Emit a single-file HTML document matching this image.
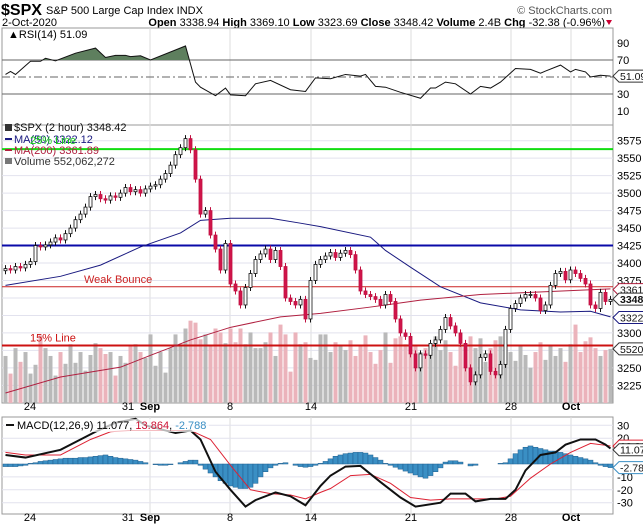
<!DOCTYPE html>
<html><head><meta charset="utf-8"><style>
body{margin:0;background:#fff;}
svg{display:block;font-family:"Liberation Sans",sans-serif;}
</style></head><body>
<svg id="c" width="643" height="529" viewBox="0 0 643 529"></svg>
<script>
const closes=[3392,3390,3395,3393,3398,3402,3425,3423,3426,3430,3436,3433,3442,3450,3462,3470,3480,3495,3498,3492,
3490,3496,3494,3500,3508,3502,3505,3500,3506,3510,3512,3520,3528,3540,3555,3565,3578,3562,3520,3470,
3475,3440,3420,3390,3428,3370,3360,3340,3365,3385,3405,3413,3420,3405,3418,3395,3350,3345,3340,3348,
3320,3375,3398,3405,3410,3415,3408,3414,3418,3412,3390,3360,3355,3352,3348,3340,3355,3345,3320,3300,
3295,3270,3250,3270,3268,3285,3290,3305,3322,3310,3300,3285,3250,3230,3240,3265,3270,3245,3240,3255,
3305,3335,3342,3350,3355,3355,3350,3332,3340,3368,3385,3388,3376,3390,3385,3378,3370,3340,3335,3358,3345,3348];
const volumes=[480,300,560,420,520,300,390,690,560,480,280,520,400,600,410,520,330,490,610,560,
500,520,280,480,410,590,600,520,460,700,380,520,310,560,700,600,760,840,820,650,
700,580,760,720,610,760,620,760,600,720,560,560,620,720,480,800,700,320,720,600,
620,460,440,700,700,520,620,580,540,640,480,580,690,520,400,540,720,410,660,680,
600,610,590,520,560,520,680,540,640,520,380,580,560,680,560,660,420,560,640,680,
600,520,430,580,490,360,520,620,440,580,480,560,420,600,800,520,630,670,560,480,540,552];
const hist=[-2,-2,-2,-1.5,-1,
0.5,1,2,2.5,3,3.5,4,4.5,4.5,4.5,5,5,5.5,6,
6.5,7,6,5,4.5,4,3.5,3,
2,1,0,-0.5,-1,-1,-0.5,
0,1,2,3,3,
-1,-4,-7,-10,-13,-15,-17,-18,-19,-19,-18,-15,
-10,-6,-3,-1,0.5,1,0,-1,-2,-2.5,-2,-1,
0.5,2,4,6,7,8,8.5,9,9,8.5,7,5,3,
0.5,-1,-2.5,-4,-5.5,-7,-8.5,-10,-11,-9,-6,-3,
1.5,2.5,2.5,1.5,0,-1.5,-1,
0,0,0,0,0.5,1,
4,8,11,13,14,13,
12,11,10,10,9,8,7,6,5,4,3,1,-1,-2,-2.8];
const macdIdx=[0,4,11,15,18,22,26,28,34,37,39,42,45,48,50,54,57,60,63,65,68,71,75,79,82,87,89,92,94,97,100,102,104,107,110,112,115,118,120,121];
const macdVal=[7,5,11,19,25,32,35,30,24,26,19,-6,-20,-33,-28,-22,-25,-32,-17,-9,-2,-1.5,-14,-26,-33,-30,-23,-23,-29,-27,-27,-20,-5,7,9,15,19,19,15,12];
const sigIdx=[0,4,11,17,21,25,31,37,41,45,49,53,57,60,63,65,69,73,77,81,85,89,93,98,101,105,109,113,117,121];
const sigVal=[9,7,7,19,25,26,26,26,19,-1,-20,-23,-24,-27,-22,-19,-9,-8,-15,-26,-28,-27,-27,-27,-25,-11,0,9,16,14];
const rsiIdx=[0,1,2,5,7,8,10,14,18,20,22,24,25,27,29,36,38,39,42,44,45,48,50,53,57,60,62,65,68,71,72,74,76,79,83,85,86,88,90,93,95,97,99,102,105,107,108,111,113,114,116,117,119,121];
const rsiVal=[53,56.5,53,68.5,68.5,72,69,78,84,73,75.5,75.5,74,75,70,86.5,44,38,28,37,29,28,42,46,35,33,49,48,53,51,53,39,38,32,25,37,37,44,42,30,39,37,44,60,59,54.5,57,64,56,59,56,50,52,51];
const ma50Idx=[0,11,19,27,35,39,45,53,59,63,73,76,81,87,95,103,111,117,121];
const ma50Val=[3368,3381,3397,3423,3443,3461,3464,3464,3457,3452,3437,3418,3394,3366,3343,3333,3330,3331,3323];
const ma200Idx=[0,11,23,29,37,45,55,63,73,83,95,105,121];
const ma200Val=[3214,3237,3251,3268,3290,3308,3323,3328,3337,3347,3355,3358,3363];
const priceTicks=[3225,3250,3275,3300,3325,3350,3375,3400,3425,3450,3475,3500,3525,3550,3575];
const rsiTicks=[90,70,30,10];
const macdTicks=[30,20,-10,-20,-30];
const dateLabels=["24","31","Sep","8","14","21","28","Oct"];
const dateX=[30,128,150,230,311,411,511,571];
const dateBold=[false,false,true,false,false,false,false,true];
const gridX=[150,230,311,411,511,571];

const NS="http://www.w3.org/2000/svg",S=document.getElementById('c');
function el(t,a,txt,p){const e=document.createElementNS(NS,t);for(const k in a)e.setAttribute(k,a[k]);if(txt!=null)e.textContent=txt;(p||S).appendChild(e);return e;}
const X=i=>5.5+5*i;
const Y=p=>140.7+(3575-p)*0.699;
const YR=v=>77-(v-50)*0.85;
const YM=v=>464-v*1.29;
const L=2,R=613;

let t;
t=el('text',{x:1,y:15,'font-size':16,'font-weight':'bold',textLength:41,lengthAdjust:'spacingAndGlyphs'},'$SPX');

t=el('text',{x:46,y:14,'font-size':11},'S&P 500 Large Cap Index  INDX');

t=el('text',{x:612,y:14,'font-size':11,'text-anchor':'end',fill:'#555'},'© StockCharts.com');

t=el('text',{x:2,y:26,'font-size':11},'2-Oct-2020');

t=el('text',{x:605,y:26,'font-size':11,'text-anchor':'end'});

t.innerHTML='<tspan font-weight="bold">Open</tspan> 3338.94 <tspan font-weight="bold">High</tspan> 3369.10 <tspan font-weight="bold">Low</tspan> 3323.69 <tspan font-weight="bold">Close</tspan> 3348.42 <tspan font-weight="bold">Volume</tspan> 2.4B <tspan font-weight="bold">Chg</tspan> -32.38 (-0.96%)';
el('path',{d:'M606,20 l6,0 l-3,5z',fill:'#c03'});

[[28,125],[125,403],[417,514]].forEach((r,k)=>{
  const f=el('rect',{x:L,y:r[0],width:R-L,height:r[1]-r[0],fill:'none',stroke:'#999'});
  
});
gridX.forEach(x=>{[[28,125],[125,403],[417,514]].forEach(r=>el('line',{x1:x,x2:x,y1:r[0],y2:r[1],stroke:'#ddd'}));});

rsiTicks.forEach(v=>{
  if(v==70||v==30) el('line',{x1:L,x2:R,y1:YR(v),y2:YR(v),stroke:'#666'});
  t=el('text',{x:617,y:YR(v)+4,'font-size':11},String(v));
  
});
el('line',{x1:L,x2:R,y1:YR(50),y2:YR(50),stroke:'#666','stroke-dasharray':'8,3,2,3'});
const rsiPts=rsiIdx.map((ix,k)=>[X(ix),YR(rsiVal[k])]);
el('clipPath',{id:'above70'});
el('rect',{x:L,y:28,width:R-L,height:YR(70)-28},null,document.getElementById('above70'));
let fd='M'+rsiPts[0][0]+','+YR(70)+rsiPts.map(p=>'L'+p[0]+','+p[1]).join('')+'L'+rsiPts[rsiPts.length-1][0]+','+YR(70)+'Z';
t=el('path',{d:fd,fill:'#5e7f5e','clip-path':'url(#above70)'});

t=el('polyline',{points:rsiPts.map(p=>p.join(',')).join(' '),fill:'none',stroke:'#111','stroke-width':1});

t=el('text',{x:8,y:38,'font-size':11},'▲RSI(14) 51.09');


priceTicks.forEach(p=>{
  el('line',{x1:L,x2:R,y1:Y(p),y2:Y(p),stroke:'#e2e2ee'});
  t=el('text',{x:617,y:Y(p)+4,'font-size':11},String(p));
  
});
const VK=0.098;
volumes.forEach((v,i)=>{
  const o=i?closes[i-1]:closes[0];
  const r=el('rect',{x:X(i)-2,y:403-v*VK,width:4,height:v*VK,fill:closes[i]<o?'#ebb3bb':'#b9b9b9'});
  
  
});
t=el('line',{x1:L,x2:R,y1:Y(3563),y2:Y(3563),stroke:'#11dd11','stroke-width':2});

t=el('line',{x1:L,x2:R,y1:Y(3425),y2:Y(3425),stroke:'#0a0aa8','stroke-width':2});

t=el('line',{x1:L,x2:R,y1:Y(3366),y2:Y(3366),stroke:'#cc2222','stroke-width':1});

t=el('line',{x1:L,x2:R,y1:Y(3282),y2:Y(3282),stroke:'#cc1111','stroke-width':2});

t=el('text',{x:84,y:Y(3366)-4,'font-size':11,fill:'#cc2222'},'Weak Bounce');

t=el('text',{x:30,y:Y(3282)-4,'font-size':11,fill:'#cc1111'},'15% Line');

const ma50=ma50Idx.map((ix,k)=>X(ix)+','+Y(ma50Val[k])).join(' ');
t=el('polyline',{points:ma50,fill:'none',stroke:'#1a1a80','stroke-width':1});

const ma200=ma200Idx.map((ix,k)=>X(ix)+','+Y(ma200Val[k])).join(' ');
t=el('polyline',{points:ma200,fill:'none',stroke:'#b02040','stroke-width':1});

closes.forEach((c,i)=>{
  const o=i?closes[i-1]:c-3;
  const hi=Math.max(o,c)+5,lo=Math.min(o,c)-5;
  const down=c<o;
  const w=el('line',{x1:X(i),x2:X(i),y1:Y(hi),y2:Y(lo),stroke:down?'#c01040':'#111'});
  
  
  const top=Y(Math.max(o,c)),h=Math.max(1,Math.abs(Y(o)-Y(c)));
  const b=el('rect',{x:X(i)-1.5,y:top,width:3,height:h,fill:down?'#d0144a':'#fff',stroke:down?'#c01040':'#111','stroke-width':0.8});
  
  
});
const lg=[['$SPX (2 hour) 3348.42','#111',131],['MA(50) 3322.12','#1a1a80',143],['MA(200) 3361.89','#b02040',154],['Volume 552,062,272','#333',165]];
lg.forEach((l,k)=>{
  t=el('text',{x:14,y:l[2],'font-size':11,fill:l[1]},l[0]);
  
});
el('rect',{x:5,y:124,width:7,height:7,fill:'#333'});
el('line',{x1:5,x2:12,y1:139,y2:139,stroke:'#1a1a80','stroke-width':2});
el('line',{x1:5,x2:12,y1:150,y2:150,stroke:'#b02040','stroke-width':2});
el('rect',{x:5,y:158,width:7,height:6,fill:'#777'});
t=el('text',{x:30,y:144,'font-size':11,fill:'#11cc11'},'25% Line');

function tag(y,txt,col,bold,name){
  const g=el('g',{});
  
  el('path',{d:`M613,${y} l6,-6 h30 v12 h-30z`,fill:'#fff',stroke:col},null,g);
  el('text',{x:620,y:y+4,'font-size':10.5,'font-weight':bold?'bold':'normal',fill:'#111'},txt,g);
}
tag(Y(3361.89),'3361.89','#b02040',false,'ma200-tag');
tag(Y(3348.42),'3348.42','#333',true,'close-tag');
tag(Y(3322.12),'3322.12','#1a1a80',false,'ma50-tag');
tag(403-552*VK,'552062272','#333',false,'volume-tag');
tag(YR(51.09),'51.09','#333',false,'rsi-tag');

dateLabels.forEach((d,k)=>{
  [410,521].forEach((yy,j)=>{
    t=el('text',{x:dateX[k],y:yy,'font-size':11,'text-anchor':'middle','font-weight':dateBold[k]?'bold':'normal'},d);
    
  });
});

[30,20,10,-10,-20,-30].forEach(v=>el('line',{x1:L,x2:R,y1:YM(v),y2:YM(v),stroke:'#e2e2ee'}));
macdTicks.forEach(v=>{
  t=el('text',{x:617,y:YM(v)+4,'font-size':11},String(v));
  
});
hist.forEach((h,i)=>{
  const r=el('rect',{x:X(i)-2.5,y:Math.min(YM(0),YM(h)),width:5,height:Math.abs(YM(h)-YM(0)),fill:'#3a8fc4',stroke:'#1f5f8f','stroke-width':0.5});
  
  
});
el('clipPath',{id:'mclip'});
el('rect',{x:L,y:417,width:R-L,height:97},null,document.getElementById('mclip'));
t=el('polyline',{points:sigIdx.map((ix,k)=>X(ix)+','+YM(sigVal[k])).join(' '),fill:'none',stroke:'#dd2233','stroke-width':1,'clip-path':'url(#mclip)'});

t=el('polyline',{points:macdIdx.map((ix,k)=>X(ix)+','+YM(macdVal[k])).join(' '),fill:'none',stroke:'#111','stroke-width':2,'clip-path':'url(#mclip)'});

el('rect',{x:4,y:419,width:205,height:13,fill:'#fff','fill-opacity':0.7});
el('line',{x1:6,x2:14,y1:425,y2:425,stroke:'#111','stroke-width':2});
t=el('text',{x:17,y:429,'font-size':11});

t.innerHTML='MACD(12,26,9) 11.077, <tspan fill="#cc1133">13.864</tspan>, <tspan fill="#3a8fc4">-2.788</tspan>';
tag(YM(13.864),'13.864','#dd2233',false,'signal-tag');
tag(YM(11.077),'11.077','#333',false,'macd-tag');
tag(YM(-2.788),'-2.788','#3a8fc4',false,'histogram-tag');
</script>
</body></html>
